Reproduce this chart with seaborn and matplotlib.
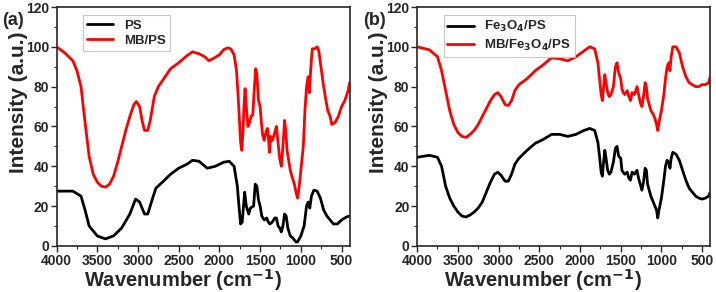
import numpy as np
import pandas as pd
import matplotlib
matplotlib.use("Agg")
import matplotlib.pyplot as plt
from matplotlib.ticker import MultipleLocator
import seaborn as sns

# ---- panel (a) ----
wn_ps = [4000, 3800, 3700, 3650, 3600, 3500, 3400, 3300, 3200, 3100, 3030, 2980, 2920, 2880,
         2820, 2780, 2700, 2600, 2500, 2400, 2330, 2250, 2150, 2050, 1950, 1880, 1820, 1780,
         1760, 1740, 1720, 1700, 1690, 1670, 1640, 1620, 1580, 1560, 1540, 1520, 1500, 1480,
         1450, 1420, 1400, 1380, 1350, 1320, 1300, 1280, 1260, 1240, 1220, 1200, 1180, 1160,
         1130, 1100, 1060, 1040, 1000, 960, 930, 910, 890, 870, 840, 800, 760, 720, 680, 640,
         600, 550, 500, 440, 400]
ps = [27.5, 27.5, 25, 18, 10, 5, 3.5, 5, 9, 16, 23.5, 22, 16, 16,
      24, 29, 32, 36, 39, 41, 43, 42.5, 39, 40, 42, 42.5, 40, 30,
      20, 11, 12, 22, 27, 20, 16, 19, 20, 31, 30, 23, 20, 15,
      13, 14, 12, 11, 12, 14, 14, 10, 9, 7, 10, 16, 15, 9,
      5, 4, 2, 2, 5, 10, 20, 22, 19, 25, 28, 27.5, 24, 18, 15, 13,
      11, 11, 13, 14.5, 15]

wn_mbps = [4000, 3900, 3800, 3750, 3700, 3650, 3600, 3550, 3500, 3450, 3400, 3350, 3300, 3250,
           3200, 3150, 3100, 3050, 3020, 2980, 2950, 2920, 2880, 2850, 2800, 2750, 2700, 2600,
           2500, 2400, 2330, 2250, 2180, 2130, 2080, 2000, 1950, 1900, 1860, 1820, 1790, 1770,
           1750, 1740, 1725, 1710, 1695, 1685, 1670, 1650, 1630, 1610, 1590, 1570, 1555, 1540,
           1520, 1500, 1485, 1470, 1450, 1430, 1410, 1400, 1385, 1370, 1350, 1320, 1300, 1280,
           1260, 1240, 1220, 1200, 1185, 1170, 1150, 1130, 1110, 1080, 1060, 1040, 1020, 1000,
           970, 950, 930, 910, 895, 880, 860, 830, 800, 780, 760, 720, 700, 670, 640, 620,
           580, 540, 500, 460, 420, 400]
mbps = [100, 97, 93, 88, 80, 62, 45, 36, 32, 30, 29.5, 31, 35, 42,
        50, 58, 65, 71, 72.5, 70, 63, 58, 58, 63, 75, 80, 83, 89,
        92, 95.5, 97.5, 96.5, 95, 93, 94, 96, 98.5, 99.5, 99, 96, 88, 75,
        60, 52, 48, 58, 73, 79, 70, 60, 62, 65, 66, 80, 89, 86,
        73, 70, 62, 56, 53, 57, 59, 55, 47, 55, 53, 57, 60, 52,
        44, 40, 50, 63, 58, 48, 43, 38, 35, 31, 27, 24, 30, 38,
        50, 68, 80, 85, 77, 88, 99, 99, 100, 98, 92, 80, 75, 68, 65, 61,
        62, 65, 70, 73, 78, 82]

# ---- panel (b) ----
wn_fe = [4000, 3850, 3750, 3700, 3650, 3600, 3550, 3500, 3450, 3400, 3350, 3300, 3250, 3200,
         3150, 3100, 3050, 3010, 2970, 2920, 2880, 2840, 2800, 2750, 2650, 2550, 2450, 2350,
         2250, 2150, 2050, 1950, 1880, 1820, 1780, 1760, 1740, 1725, 1710, 1695, 1680, 1660,
         1640, 1620, 1590, 1565, 1545, 1525, 1500, 1485, 1470, 1450, 1420, 1400, 1380, 1360,
         1330, 1300, 1280, 1260, 1240, 1220, 1200, 1185, 1170, 1150, 1130, 1100, 1080, 1060,
         1045, 1030, 1000, 970, 950, 930, 910, 895, 880, 860, 820, 780, 740, 700, 660, 620,
         580, 540, 500, 460, 420, 400]
fe = [44.5, 45.5, 44.5, 40, 30, 24, 20, 17, 15, 14.5, 15.5, 17, 19, 22,
      27, 32, 36, 37, 35.5, 32.5, 32.5, 36, 41, 44, 48, 51.5, 53.5, 56,
      56, 55, 56, 58, 59, 58, 52, 45, 37, 35, 42, 48, 44, 38,
      36, 37, 42, 49, 50, 45, 44, 38, 37, 36, 37, 34, 33, 37,
      36, 38, 34, 31, 28, 32, 39, 38, 31, 28, 25, 22, 20, 18,
      14, 18, 24, 33, 40, 43, 42, 39, 44, 47, 46, 43, 38, 33, 29, 27,
      25, 24, 23.5, 24, 25, 27]

wn_mbfe = wn_fe
mbfe = [100, 98.5, 95, 88, 78, 68, 61, 57, 55, 54.5, 56, 58, 61, 65,
        69, 73, 76, 77, 75, 71, 70.5, 73, 78, 81, 84, 88, 91, 94.5,
        94, 93, 95, 98, 100, 99, 92, 84, 76, 73, 80, 86, 82, 77,
        75, 76, 80, 90, 92, 87, 84, 79, 77, 76, 78, 75, 73, 77,
        76, 80, 76, 72, 70, 75, 82, 80, 74, 71, 68, 66, 64, 61,
        58, 62, 68, 76, 84, 90, 92, 88, 95, 100, 100, 97, 90, 85, 82, 81,
        80, 80, 81, 81, 82, 85]

panels = [
    ("(a)", [("PS", wn_ps, ps, "black"), ("MB/PS", wn_mbps, mbps, "red")]),
    ("(b)", [("Fe$_3$O$_4$/PS", wn_fe, fe, "black"),
             ("MB/Fe$_3$O$_4$/PS", wn_mbfe, mbfe, "red")]),
]

sns.set_style("ticks")
plt.rcParams['font.family'] = ['Liberation Sans', 'DejaVu Sans']
plt.rcParams['font.weight'] = 'bold'
plt.rcParams['mathtext.default'] = 'bf'

fig, axes = plt.subplots(1, 2, figsize=(7.16, 2.92), dpi=100)
fig.subplots_adjust(left=0.079, right=0.992, top=0.976, bottom=0.158, wspace=0.23)

for ax, (tag, series) in zip(axes, panels):
    for name, x, y, c in series:
        df = pd.DataFrame({"wn": x, "val": y})
        sns.lineplot(data=df, x="wn", y="val", ax=ax, color=c, lw=2, label=name,
                     sort=False, estimator=None)
    ax.set_xlim(4000, 400)
    ax.set_ylim(0, 120)
    ax.xaxis.set_major_locator(MultipleLocator(500))
    ax.xaxis.set_minor_locator(MultipleLocator(250))
    ax.yaxis.set_major_locator(MultipleLocator(20))
    ax.yaxis.set_minor_locator(MultipleLocator(10))
    ax.tick_params(which='major', direction='out', length=4, width=1, labelsize=10, pad=1.5)
    ax.tick_params(axis='x', which='major', pad=2)
    ax.tick_params(which='minor', direction='out', length=2, width=0.8)
    for lbl in ax.get_xticklabels() + ax.get_yticklabels():
        lbl.set_fontweight('bold')
    for sp in ax.spines.values():
        sp.set_linewidth(1.2)
    ax.set_xlabel("Wavenumber (cm$^{-1}$)", fontsize=14.5, fontweight='bold')
    ax.set_ylabel("Intensity (a.u.)", fontsize=15, fontweight='bold')
    ax.xaxis.set_label_coords(0.43, -0.088)
    ax.yaxis.set_label_coords(-0.098, 0.6)
    leg = ax.legend(loc='upper left', bbox_to_anchor=(0.09, 0.965), fontsize=9.5,
                    frameon=True, fancybox=False, handlelength=2.0, borderpad=0.3,
                    labelspacing=0.25, borderaxespad=0)
    leg.get_frame().set_edgecolor('#bbbbbb')
    leg.get_frame().set_linewidth(0.8)
    for t in leg.get_texts():
        t.set_fontweight('bold')
    pos = ax.get_position()
    fig.text(pos.x0 - 0.076, pos.y1 - 0.045, tag, fontsize=13, fontweight='bold',
             ha='left', va='center')

fig.savefig("out.png", dpi=100)
